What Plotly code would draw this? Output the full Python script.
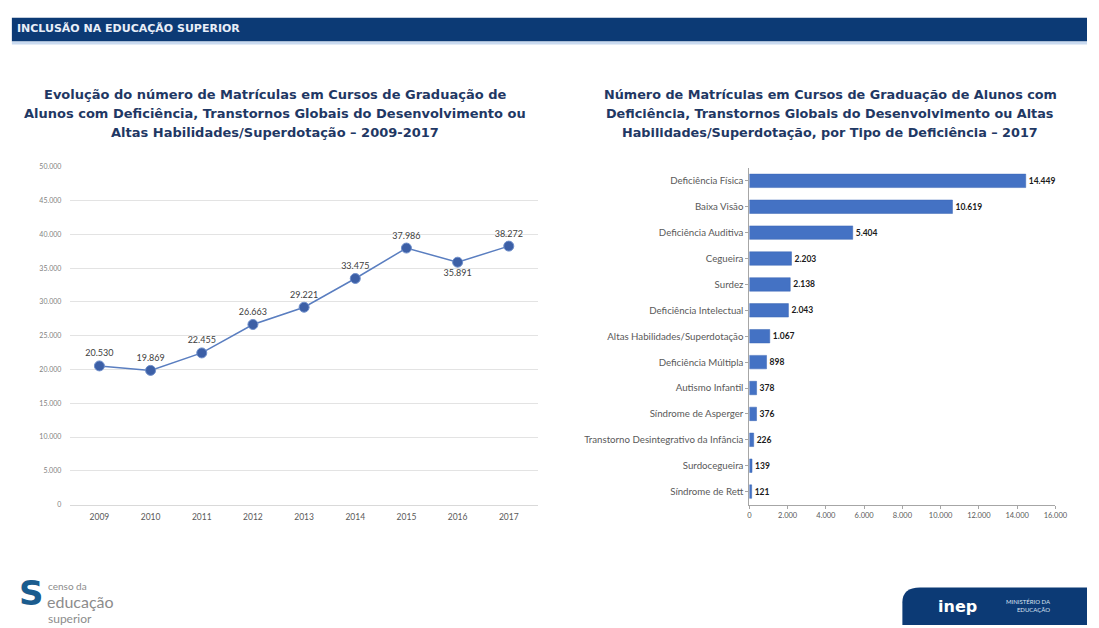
import plotly.graph_objects as go

# ---- data ----
years = ["2009", "2010", "2011", "2012", "2013", "2014", "2015", "2016", "2017"]
enrollments = [20530, 19869, 22455, 26663, 29221, 33475, 37986, 35891, 38272]

types = ["Deficiência Física", "Baixa Visão", "Deficiência Auditiva", "Cegueira", "Surdez",
         "Deficiência Intelectual", "Altas Habilidades/Superdotação", "Deficiência Múltipla",
         "Autismo Infantil", "Síndrome de Asperger", "Transtorno Desintegrativo da Infância",
         "Surdocegueira", "Síndrome de Rett"]
type_values = [14449, 10619, 5404, 2203, 2138, 2043, 1067, 898, 378, 376, 226, 139, 121]

left_ticks = list(range(0, 50001, 5000))
right_ticks = list(range(0, 16001, 2000))

left_title = ["Evolução do número de Matrículas em Cursos de Graduação de",
              "Alunos com Deficiência, Transtornos Globais do Desenvolvimento ou",
              "Altas Habilidades/Superdotação – 2009-2017"]
right_title = ["Número de Matrículas em Cursos de Graduação de Alunos com",
               "Deficiência, Transtornos Globais do Desenvolvimento ou Altas",
               "Habilidades/Superdotação, por Tipo de Deficiência – 2017"]

def fmt(v):
    return f"{v:,}".replace(",", ".")

W, H = 1099, 628
def px(x):
    return x / W
def py(y):
    return 1 - y / H

FONT = "Lato"
TFONT = "DejaVu Sans"
NAVY = "#1F3864"

fig = go.Figure()

fig.add_trace(go.Scatter(
    x=years, y=enrollments, mode="lines+markers+text",
    line=dict(color="#5A7EC0", width=1.5),
    marker=dict(color="#3C5FA6", size=10, line=dict(color="#6F8FCB", width=1)),
    text=[fmt(v) for v in enrollments],
    textposition=["top center"] * 7 + ["bottom center", "top center"],
    textfont=dict(size=9, color="#404040", family=FONT),
    xaxis="x", yaxis="y", showlegend=False, cliponaxis=False,
))

fig.add_trace(go.Bar(
    x=type_values, y=types, orientation="h",
    marker=dict(color="#4472C4", line=dict(color="#3A66B5", width=0.5)),
    width=0.52,
    text=["<b>" + fmt(v) + "</b>" for v in type_values], textposition="outside",
    textfont=dict(size=8.5, color="#1a1a1a", family=FONT),
    xaxis="x2", yaxis="y2", showlegend=False, cliponaxis=False,
))

fig.update_layout(
    width=W, height=H, margin=dict(l=0, r=0, t=0, b=0),
    paper_bgcolor="white", plot_bgcolor="white",
    font=dict(family=FONT, color="#595959"),
    xaxis=dict(domain=[px(68.6), px(543.4)], type="category", showgrid=False,
               showline=True, linecolor="#D9D9D9", linewidth=1, ticks="outside",
               ticklen=4, tickcolor="rgba(0,0,0,0)",
               tickfont=dict(size=8.5, color="#595959"), anchor="y"),
    yaxis=dict(domain=[py(506), py(164)], range=[0, 50000], tickvals=left_ticks,
               ticktext=[fmt(v) for v in left_ticks], showgrid=True,
               gridcolor="#E3E3E3", gridwidth=1, zeroline=False, showline=False,
               ticks="outside", ticklen=6, tickcolor="rgba(0,0,0,0)",
               tickfont=dict(size=7, color="#7F7F7F"), anchor="x"),
    xaxis2=dict(domain=[px(757), px(1067)], range=[0, 16000], tickvals=right_ticks,
                ticktext=[fmt(v) for v in right_ticks], showgrid=False,
                showline=True, linecolor="#A6A6A6", linewidth=1, ticks="outside",
                ticklen=3, tickcolor="#A6A6A6", zeroline=False,
                tickfont=dict(size=7.5, color="#595959"), anchor="y2"),
    yaxis2=dict(domain=[py(506), py(165)], type="category", autorange="reversed",
                showgrid=False, showline=True, linecolor="#A6A6A6", linewidth=1,
                ticks="outside", ticklen=3, tickcolor="#A6A6A6",
                tickfont=dict(size=9.7, color="#595959"), anchor="x2"),
)

shapes = [
    dict(type="rect", xref="paper", yref="paper", x0=px(10), x1=1, y0=py(37), y1=py(13),
         fillcolor="#0C3A75", line=dict(width=0), layer="below"),
    dict(type="rect", xref="paper", yref="paper", x0=px(10), x1=1, y0=py(40), y1=py(37),
         fillcolor="#C9DAF0", line=dict(width=0), layer="below"),
    dict(type="path", xref="paper", yref="paper",
         path=f"M {px(912)},{py(628)} L {px(912)},{py(605)} Q {px(912)},{py(590)} {px(930)},{py(590)} L 1,{py(590)} L 1,{py(628)} Z",
         fillcolor="#0C3A75", line=dict(width=0)),
]

annotations = [
    dict(text="<b>INCLUSÃO NA EDUCAÇÃO SUPERIOR</b>", x=px(13), y=py(24), xref="paper", yref="paper",
         xanchor="left", yanchor="middle", showarrow=False,
         font=dict(size=11, color="#E8EEF8", family=TFONT)),
]
for i, line in enumerate(left_title):
    annotations.append(dict(text="<b>" + line + "</b>", x=px(277), y=py(91 + 19 * i),
                            xref="paper", yref="paper", xanchor="center", yanchor="middle",
                            showarrow=False, font=dict(size=13, color=NAVY, family=TFONT)))
for i, line in enumerate(right_title):
    annotations.append(dict(text="<b>" + line + "</b>", x=px(839), y=py(91 + 19 * i),
                            xref="paper", yref="paper", xanchor="center", yanchor="middle",
                            showarrow=False, font=dict(size=12.8, color=NAVY, family=TFONT)))

annotations += [
    # bottom-left logo
    dict(text="<b>S</b>", x=px(30), y=py(596), xref="paper", yref="paper", xanchor="center",
         yanchor="middle", showarrow=False, font=dict(size=34, color="#1B5C8E", family="DejaVu Sans")),
    dict(text="censo da", x=px(45), y=py(589), xref="paper", yref="paper", xanchor="left",
         yanchor="middle", showarrow=False, font=dict(size=10, color="#8C8C8C", family=FONT)),
    dict(text="educação", x=px(44), y=py(604), xref="paper", yref="paper", xanchor="left",
         yanchor="middle", showarrow=False, font=dict(size=16, color="#8C8C8C", family=FONT)),
    dict(text="superior", x=px(45), y=py(621), xref="paper", yref="paper", xanchor="left",
         yanchor="middle", showarrow=False, font=dict(size=12, color="#8C8C8C", family=FONT)),
    # bottom-right logo
    dict(text="<b>inep</b>", x=px(968), y=py(609), xref="paper", yref="paper", xanchor="center",
         yanchor="middle", showarrow=False, font=dict(size=16, color="white", family="DejaVu Sans")),
    dict(text="MINISTÉRIO DA<br>EDUCAÇÃO", x=px(1040), y=py(608), xref="paper", yref="paper",
         xanchor="center", yanchor="middle", showarrow=False, align="right",
         font=dict(size=6, color="#D8E2F2", family=FONT)),
]

fig.update_layout(shapes=shapes, annotations=annotations)

post = ("document.body.style.margin='0';document.body.style.overflow='hidden';"
        "var gd=document.getElementById('{plot_id}');"
        "gd.style.position='fixed';gd.style.top='0px';gd.style.left='0px';")

fig.write_html("out.html", config={"displayModeBar": False}, post_script=post)
